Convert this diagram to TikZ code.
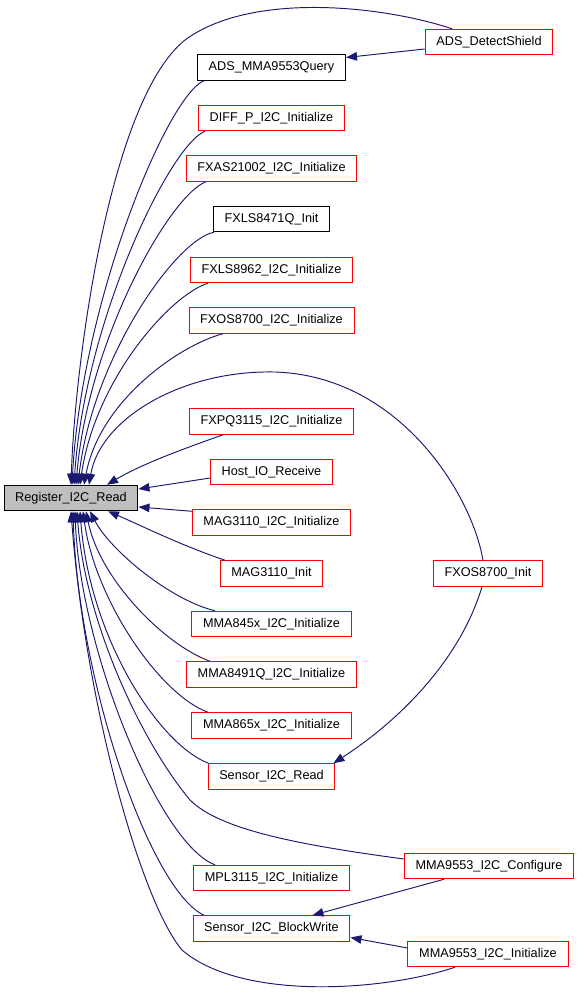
\documentclass[tikz,border=0pt]{standalone}
\usepackage{fontspec}
\setmainfont{Liberation Sans}
\usepackage{tikz}
\usetikzlibrary{arrows.meta}
\definecolor{edgeblue}{HTML}{191970}
\definecolor{boxred}{HTML}{FF0000}
\definecolor{cellgray}{HTML}{BFBFBF}

\begin{document}
\begin{tikzpicture}[x=1pt,y=-1pt,
  fn/.style={draw=boxred,line width=1pt,fill=white,inner xsep=11.2pt,inner ysep=0pt,
    minimum height=25.5pt,font=\fontsize{12.7}{15}\selectfont},
  fnplain/.style={fn,draw=black},
  fncur/.style={fn,draw=black,fill=cellgray},
  call/.style={draw=edgeblue,line width=0.95pt,-{Triangle[length=11pt,width=8.5pt]}}]
\useasboundingbox (0,0) rectangle (579,996);
%% nodes
\node[fncur] (reg) at (71,498) {Register\_I2C\_Read};

\node[fnplain] (adsq) at (271.5,67.5) {ADS\_MMA9553Query};
\node[fn] (diff) at (271.5,118) {DIFF\_P\_I2C\_Initialize};
\node[fn] (fxas) at (271.5,168.5) {FXAS21002\_I2C\_Initialize};
\node[fnplain] (fxls71) at (271.5,219) {FXLS8471Q\_Init};
\node[fn] (fxls62) at (271.5,270) {FXLS8962\_I2C\_Initialize};
\node[fn] (fxos) at (271.5,320.5) {FXOS8700\_I2C\_Initialize};
\node[fn] (fxpq) at (271.5,421.5) {FXPQ3115\_I2C\_Initialize};
\node[fn] (hostio) at (271.5,472) {Host\_IO\_Receive};
\node[fn] (mag) at (271.5,522.5) {MAG3110\_I2C\_Initialize};
\node[fn] (maginit) at (271.5,573.5) {MAG3110\_Init};
\node[fn] (mma845) at (271.5,624) {MMA845x\_I2C\_Initialize};
\node[fn] (mma8491) at (271.5,674.5) {MMA8491Q\_I2C\_Initialize};
\node[fn] (mma865) at (271.5,725.5) {MMA865x\_I2C\_Initialize};
\node[fn] (sread) at (271.5,776.5) {Sensor\_I2C\_Read};
\node[fn] (mpl) at (271.5,878) {MPL3115\_I2C\_Initialize};
\node[fn] (bwrite) at (271.5,928.5) {Sensor\_I2C\_BlockWrite};

\node[fn] (detect) at (489,42) {ADS\_DetectShield};
\node[fn] (fxosinit) at (488,573.5) {FXOS8700\_Init};
\node[fn] (conf) at (489,866) {MMA9553\_I2C\_Configure};
\node[fn] (mmainit) at (488,954) {MMA9553\_I2C\_Initialize};

%% edges into top of reg
\draw[call] ([xshift=-37pt]detect.north) .. controls (380,5) and (250,-8) .. (185,40)
  .. controls (110,100) and (75,360) .. ([xshift=0pt]reg.north);
\draw[call] ([xshift=-67.5pt]adsq.south) .. controls (168,95) and (82,300) .. ([xshift=1pt]reg.north);
\draw[call] ([xshift=-66.5pt]diff.south) .. controls (170,145) and (85,320) .. ([xshift=3pt]reg.north);
\draw[call] ([xshift=-65.5pt]fxas.south) .. controls (170,195) and (88,340) .. ([xshift=5pt]reg.north);
\draw[call] ([xshift=1pt]fxls71.south west) .. controls (175,240) and (92,360) .. ([xshift=7pt]reg.north);
\draw[call] ([xshift=-63.5pt]fxls62.south) .. controls (170,295) and (95,380) .. ([xshift=9pt]reg.north);
\draw[call] ([xshift=-48.5pt]fxos.south) .. controls (180,345) and (100,400) .. ([xshift=13pt]reg.north);
\draw[call] ([xshift=-5pt]fxosinit.north) .. controls (472,495) and (400,376) .. (275,372)
  .. controls (180,370) and (100,420) .. ([xshift=18pt]reg.north);
\draw[call] ([xshift=-48.5pt]fxpq.south) .. controls (180,450) and (140,465) .. ([xshift=36pt]reg.north);
%% edges into right side of reg
\draw[call] ([yshift=-6pt]hostio.west) -- ([yshift=9pt]reg.east);
\draw[call] ([yshift=-2pt]mag.north west) -- ([yshift=-9pt]reg.east);
%% edges into bottom of reg
\draw[call] ([xshift=-46.5pt]maginit.north) .. controls (180,545) and (140,525) .. ([xshift=37pt]reg.south);
\draw[call] ([xshift=-56.5pt]mma845.north) .. controls (170,600) and (110,550) .. ([xshift=19pt]reg.south);
\draw[call] ([xshift=-61.5pt]mma8491.north) .. controls (165,645) and (100,580) .. ([xshift=15pt]reg.south);
\draw[call] ([xshift=-63.5pt]mma865.north) .. controls (160,695) and (95,600) .. ([xshift=12pt]reg.south);
\draw[call] ([xshift=-63pt]sread.north) .. controls (160,745) and (90,640) .. ([xshift=9pt]reg.south);
\draw[call] ([yshift=7pt]conf.west) .. controls (300,845) and (220,830) .. (190,800)
  .. controls (140,740) and (85,620) .. ([xshift=6pt]reg.south);
\draw[call] ([xshift=-56.5pt]mpl.north) .. controls (160,845) and (80,650) .. ([xshift=4pt]reg.south);
\draw[call] ([xshift=-67.5pt]bwrite.north) .. controls (150,890) and (78,680) .. ([xshift=2pt]reg.south);
\draw[call] ([xshift=-33pt]mmainit.south) .. controls (380,992) and (240,1000) .. (182,950)
  .. controls (140,900) and (85,700) .. ([xshift=0pt]reg.south);

%% other calls
\draw[call] ([yshift=-7pt]detect.west) -- ([yshift=10pt]adsq.east);
\draw[call] ([xshift=-6pt]fxosinit.south) .. controls (460,660) and (400,720) .. ([xshift=-2pt]sread.north east);
\draw[call] ([xshift=-45pt]conf.south) -- ([xshift=41pt]bwrite.north);
\draw[call] ([yshift=6pt]mmainit.west) -- ([yshift=-9pt]bwrite.east);
\end{tikzpicture}
\end{document}
